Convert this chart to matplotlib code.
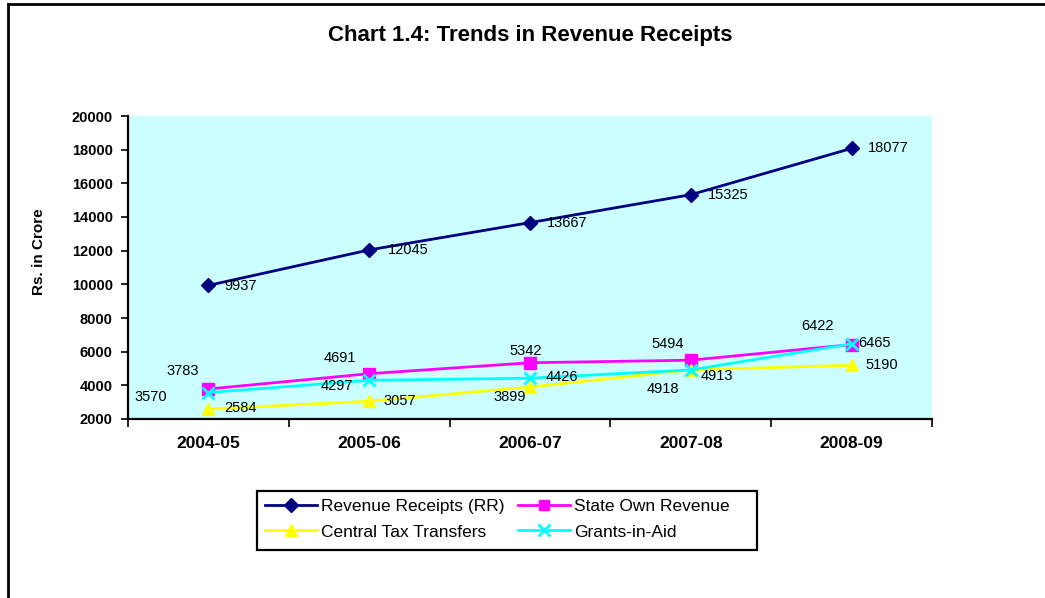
import matplotlib
matplotlib.use("Agg")
import matplotlib.pyplot as plt
from matplotlib.lines import Line2D
from matplotlib.patches import Rectangle

# ── Data ───────────────────────────────────────────────────────────────────
YEARS = ["2004-05", "2005-06", "2006-07", "2007-08", "2008-09"]
RR  = [9937, 12045, 13667, 15325, 18077]   # Revenue Receipts
SOR = [3783, 4691, 5342, 5494, 6422]       # State Own Revenue
CTT = [2584, 3057, 3899, 4918, 5190]       # Central Tax Transfers
GIA = [3570, 4297, 4426, 4913, 6465]       # Grants-in-Aid

Y_TICKS = list(range(2000, 20001, 2000))

# label offsets (px, right / down) – placed by hand like the original
OFF_RR  = [(32, 1), (39, 0), (37, 0), (37, 0), (37, 0)]
OFF_SOR = [(-26, -18), (-29, -16), (-4, -12), (-23, -16), (-34, -19)]
OFF_CTT = [(32, -1), (31, 0), (-20, 10), (-28, 19), (30, 0)]
OFF_GIA = [(-58, 4), (-32, 6), (32, -1), (26, 6), (23, -1)]

plt.rcParams["font.family"] = ["Liberation Sans", "DejaVu Sans"]

fig = plt.figure(figsize=(10.45, 5.98), dpi=100)
W, H = 1045, 598
ax = fig.add_axes([128 / W, 1 - 419 / H, (932 - 128) / W, (419 - 116) / H])
ax.set_facecolor("#CCFFFF")

x = list(range(len(YEARS)))
series = [
    (RR,  "Revenue Receipts (RR)", "#000080", "D", 7.5, OFF_RR),
    (SOR, "State Own Revenue",     "#FF00FF", "s", 8, OFF_SOR),
    (CTT, "Central Tax Transfers", "#FFFF00", "^", 9, OFF_CTT),
    (GIA, "Grants-in-Aid",         "#00FFFF", "x", 9, OFF_GIA),
]
handles = {}
for vals, name, col, mk, ms, offs in series:
    ln, = ax.plot(x, vals, color=col, lw=2.0, marker=mk, markersize=ms,
                  markeredgewidth=2 if mk == "x" else 1, markeredgecolor=col,
                  label=name)
    handles[name] = ln
for vals, name, col, mk, ms, offs in series:
    for xi, v, (dx, dy) in zip(x, vals, offs):
        ax.annotate(f"{v}", xy=(xi, v), xytext=(dx, -dy),
                    textcoords="offset pixels", ha="center", va="center",
                    fontsize=10.5, color="black")

# Axes
ax.set_xlim(-0.5, len(YEARS) - 0.5)
ax.set_ylim(2000, 20000)
ax.set_yticks(Y_TICKS)
ax.set_yticklabels([str(t) for t in Y_TICKS], fontweight="bold", fontsize=10.5)
ax.set_xticks([i - 0.5 for i in range(len(YEARS) + 1)])
ax.set_xticklabels([])
ax.set_xticks(x, minor=True)
ax.set_xticklabels(YEARS, minor=True, fontweight="bold", fontsize=12.5)
ax.tick_params(axis="x", which="major", length=6, width=1.2, direction="out")
ax.tick_params(axis="x", which="minor", length=0, pad=12)
ax.tick_params(axis="y", length=5, width=1.2, direction="out", pad=6)
for s in ("top", "right"):
    ax.spines[s].set_visible(False)
for s in ("left", "bottom"):
    ax.spines[s].set_linewidth(1.6)
ax.set_ylabel("Rs. in Crore", fontweight="bold", fontsize=11)
ax.yaxis.set_label_coords((46 - 128) / 804, 1 - (252 - 116) / 303)

fig.text(530 / W, 1 - 36 / H, "Chart 1.4: Trends in Revenue Receipts",
         ha="center", va="center", fontsize=16, fontweight="bold")

# Excel fills the legend row by row
order = ["Revenue Receipts (RR)", "Central Tax Transfers",
         "State Own Revenue", "Grants-in-Aid"]
leg = ax.legend([handles[n] for n in order], order,
                loc="upper left", bbox_to_anchor=(257 / W, 1 - 491 / H),
                bbox_transform=fig.transFigure, borderaxespad=0,
                ncol=2, fontsize=12.5, frameon=False,
                handlelength=3.0, handletextpad=0.25, columnspacing=0.75,
                labelspacing=0.6, borderpad=0.45, markerscale=0.9)
# legend box drawn separately (Excel leaves extra room on the right)
fig.add_artist(Rectangle((257 / W, 1 - 550 / H), 500 / W, 59 / H,
                         transform=fig.transFigure, fill=False,
                         edgecolor="black", lw=1.6))

# outer chart border (left + top only, as cropped in the original)
fig.add_artist(Line2D([8 / W, 8 / W], [0, 1 - 4 / H], transform=fig.transFigure,
                      color="black", lw=2))
fig.add_artist(Line2D([8 / W, 1], [1 - 4 / H, 1 - 4 / H], transform=fig.transFigure,
                      color="black", lw=2))

fig.savefig("out.png", dpi=100)
